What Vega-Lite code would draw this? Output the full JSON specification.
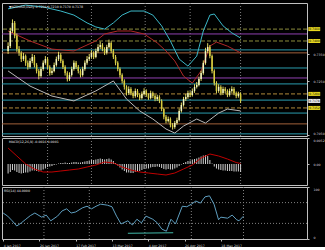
{
"$schema":"https://vega.github.io/schema/vega-lite/v6.json",
"background":"#000000",
"padding":{"left":0,"top":2,"right":0,"bottom":0},
"spacing":0,
"config":{
 "view":{"stroke":"#c0c0c0","strokeWidth":1},
 "axis":{"labelColor":"#d8d8d8","labelFont":"DejaVu Sans","labelFontSize":3.2,"domain":false,"tickColor":"#c0c0c0","tickSize":2,"labelPadding":4,"grid":false,"title":null,"labelOverlap":false},
 "text":{"font":"DejaVu Sans","fontSize":3.2,"color":"#e8e8e8"}
},
"datasets":{
"bars":[
{"i":0,"o":0.7363,"h":0.7395,"l":0.7352,"c":0.7381,"m":-0.0019},
{"i":1,"o":0.7381,"h":0.7449,"l":0.7374,"c":0.7437,"m":-0.0016},
{"i":2,"o":0.7437,"h":0.7480,"l":0.7430,"c":0.7467,"m":-0.0012},
{"i":3,"o":0.7467,"h":0.7474,"l":0.7410,"c":0.7419,"m":-0.0013},
{"i":4,"o":0.7419,"h":0.7428,"l":0.7360,"c":0.7370,"m":-0.0016},
{"i":5,"o":0.7370,"h":0.7381,"l":0.7345,"c":0.7356,"m":-0.0018},
{"i":6,"o":0.7356,"h":0.7362,"l":0.7322,"c":0.7333,"m":-0.0019},
{"i":7,"o":0.7333,"h":0.7356,"l":0.7326,"c":0.7344,"m":-0.0018},
{"i":8,"o":0.7344,"h":0.7350,"l":0.7308,"c":0.7319,"m":-0.0017},
{"i":9,"o":0.7319,"h":0.7328,"l":0.7294,"c":0.7304,"m":-0.0017},
{"i":10,"o":0.7304,"h":0.7336,"l":0.7298,"c":0.7326,"m":-0.0015},
{"i":11,"o":0.7326,"h":0.7352,"l":0.7318,"c":0.7341,"m":-0.0013},
{"i":12,"o":0.7341,"h":0.7348,"l":0.7302,"c":0.7311,"m":-0.0013},
{"i":13,"o":0.7311,"h":0.7318,"l":0.7280,"c":0.7289,"m":-0.0014},
{"i":14,"o":0.7289,"h":0.7296,"l":0.7258,"c":0.7270,"m":-0.0015},
{"i":15,"o":0.7270,"h":0.7305,"l":0.7264,"c":0.7296,"m":-0.0013},
{"i":16,"o":0.7296,"h":0.7328,"l":0.7290,"c":0.7319,"m":-0.0011},
{"i":17,"o":0.7319,"h":0.7344,"l":0.7312,"c":0.7333,"m":-0.0009},
{"i":18,"o":0.7333,"h":0.7340,"l":0.7296,"c":0.7304,"m":-0.0006},
{"i":19,"o":0.7304,"h":0.7310,"l":0.7272,"c":0.7281,"m":-0.0005},
{"i":20,"o":0.7281,"h":0.7300,"l":0.7274,"c":0.7289,"m":-0.0004},
{"i":21,"o":0.7289,"h":0.7320,"l":0.7284,"c":0.7311,"m":-0.0002},
{"i":22,"o":0.7311,"h":0.7342,"l":0.7305,"c":0.7333,"m":-0.0001},
{"i":23,"o":0.7333,"h":0.7360,"l":0.7326,"c":0.7348,"m":0.0001},
{"i":24,"o":0.7348,"h":0.7355,"l":0.7318,"c":0.7326,"m":0.0002},
{"i":25,"o":0.7326,"h":0.7332,"l":0.7296,"c":0.7304,"m":0.0002},
{"i":26,"o":0.7304,"h":0.7310,"l":0.7272,"c":0.7281,"m":0.0003},
{"i":27,"o":0.7281,"h":0.7288,"l":0.7250,"c":0.7259,"m":0.0002},
{"i":28,"o":0.7259,"h":0.7284,"l":0.7252,"c":0.7274,"m":0.0002},
{"i":29,"o":0.7274,"h":0.7305,"l":0.7268,"c":0.7296,"m":0.0003},
{"i":30,"o":0.7296,"h":0.7328,"l":0.7290,"c":0.7319,"m":0.0004},
{"i":31,"o":0.7319,"h":0.7326,"l":0.7296,"c":0.7304,"m":0.0004},
{"i":32,"o":0.7304,"h":0.7311,"l":0.7280,"c":0.7289,"m":0.0003},
{"i":33,"o":0.7289,"h":0.7296,"l":0.7265,"c":0.7274,"m":0.0003},
{"i":34,"o":0.7274,"h":0.7305,"l":0.7268,"c":0.7296,"m":0.0004},
{"i":35,"o":0.7296,"h":0.7328,"l":0.7290,"c":0.7319,"m":0.0005},
{"i":36,"o":0.7319,"h":0.7344,"l":0.7312,"c":0.7333,"m":0.0006},
{"i":37,"o":0.7333,"h":0.7352,"l":0.7326,"c":0.7341,"m":0.0007},
{"i":38,"o":0.7341,"h":0.7366,"l":0.7334,"c":0.7356,"m":0.0008},
{"i":39,"o":0.7356,"h":0.7362,"l":0.7333,"c":0.7341,"m":0.0008},
{"i":40,"o":0.7341,"h":0.7372,"l":0.7336,"c":0.7363,"m":0.0009},
{"i":41,"o":0.7363,"h":0.7388,"l":0.7356,"c":0.7378,"m":0.0010},
{"i":42,"o":0.7378,"h":0.7398,"l":0.7370,"c":0.7385,"m":0.0011},
{"i":43,"o":0.7385,"h":0.7392,"l":0.7362,"c":0.7370,"m":0.0010},
{"i":44,"o":0.7370,"h":0.7377,"l":0.7348,"c":0.7356,"m":0.0009},
{"i":45,"o":0.7356,"h":0.7386,"l":0.7350,"c":0.7378,"m":0.0010},
{"i":46,"o":0.7378,"h":0.7405,"l":0.7372,"c":0.7393,"m":0.0011},
{"i":47,"o":0.7393,"h":0.7399,"l":0.7355,"c":0.7363,"m":0.0009},
{"i":48,"o":0.7363,"h":0.7370,"l":0.7333,"c":0.7341,"m":0.0006},
{"i":49,"o":0.7341,"h":0.7348,"l":0.7310,"c":0.7319,"m":0.0002},
{"i":50,"o":0.7319,"h":0.7325,"l":0.7288,"c":0.7296,"m":-0.0003},
{"i":51,"o":0.7296,"h":0.7302,"l":0.7265,"c":0.7274,"m":-0.0007},
{"i":52,"o":0.7274,"h":0.7280,"l":0.7243,"c":0.7252,"m":-0.0011},
{"i":53,"o":0.7252,"h":0.7258,"l":0.7220,"c":0.7230,"m":-0.0014},
{"i":54,"o":0.7230,"h":0.7236,"l":0.7198,"c":0.7207,"m":-0.0017},
{"i":55,"o":0.7207,"h":0.7232,"l":0.7200,"c":0.7222,"m":-0.0017},
{"i":56,"o":0.7222,"h":0.7229,"l":0.7199,"c":0.7207,"m":-0.0018},
{"i":57,"o":0.7207,"h":0.7214,"l":0.7188,"c":0.7196,"m":-0.0018},
{"i":58,"o":0.7196,"h":0.7224,"l":0.7190,"c":0.7215,"m":-0.0016},
{"i":59,"o":0.7215,"h":0.7222,"l":0.7192,"c":0.7200,"m":-0.0015},
{"i":60,"o":0.7200,"h":0.7207,"l":0.7181,"c":0.7189,"m":-0.0014},
{"i":61,"o":0.7189,"h":0.7213,"l":0.7183,"c":0.7204,"m":-0.0012},
{"i":62,"o":0.7204,"h":0.7225,"l":0.7198,"c":0.7215,"m":-0.0010},
{"i":63,"o":0.7215,"h":0.7221,"l":0.7193,"c":0.7200,"m":-0.0009},
{"i":64,"o":0.7200,"h":0.7206,"l":0.7182,"c":0.7189,"m":-0.0009},
{"i":65,"o":0.7189,"h":0.7216,"l":0.7184,"c":0.7207,"m":-0.0007},
{"i":66,"o":0.7207,"h":0.7213,"l":0.7188,"c":0.7196,"m":-0.0006},
{"i":67,"o":0.7196,"h":0.7202,"l":0.7177,"c":0.7185,"m":-0.0006},
{"i":68,"o":0.7185,"h":0.7201,"l":0.7178,"c":0.7193,"m":-0.0005},
{"i":69,"o":0.7193,"h":0.7199,"l":0.7170,"c":0.7178,"m":-0.0006},
{"i":70,"o":0.7178,"h":0.7184,"l":0.7140,"c":0.7148,"m":-0.0008},
{"i":71,"o":0.7148,"h":0.7154,"l":0.7110,"c":0.7119,"m":-0.0010},
{"i":72,"o":0.7119,"h":0.7126,"l":0.7095,"c":0.7104,"m":-0.0011},
{"i":73,"o":0.7104,"h":0.7120,"l":0.7098,"c":0.7111,"m":-0.0010},
{"i":74,"o":0.7111,"h":0.7117,"l":0.7080,"c":0.7089,"m":-0.0011},
{"i":75,"o":0.7089,"h":0.7096,"l":0.7072,"c":0.7081,"m":-0.0011},
{"i":76,"o":0.7081,"h":0.7104,"l":0.7075,"c":0.7096,"m":-0.0009},
{"i":77,"o":0.7096,"h":0.7116,"l":0.7090,"c":0.7107,"m":-0.0007},
{"i":78,"o":0.7107,"h":0.7150,"l":0.7102,"c":0.7141,"m":-0.0004},
{"i":79,"o":0.7141,"h":0.7172,"l":0.7135,"c":0.7163,"m":-0.0001},
{"i":80,"o":0.7163,"h":0.7193,"l":0.7157,"c":0.7185,"m":0.0002},
{"i":81,"o":0.7185,"h":0.7204,"l":0.7178,"c":0.7193,"m":0.0004},
{"i":82,"o":0.7193,"h":0.7216,"l":0.7186,"c":0.7207,"m":0.0006},
{"i":83,"o":0.7207,"h":0.7214,"l":0.7192,"c":0.7200,"m":0.0007},
{"i":84,"o":0.7200,"h":0.7224,"l":0.7194,"c":0.7215,"m":0.0009},
{"i":85,"o":0.7215,"h":0.7240,"l":0.7208,"c":0.7230,"m":0.0010},
{"i":86,"o":0.7230,"h":0.7248,"l":0.7224,"c":0.7237,"m":0.0011},
{"i":87,"o":0.7237,"h":0.7268,"l":0.7232,"c":0.7259,"m":0.0013},
{"i":88,"o":0.7259,"h":0.7290,"l":0.7252,"c":0.7281,"m":0.0015},
{"i":89,"o":0.7281,"h":0.7328,"l":0.7275,"c":0.7319,"m":0.0017},
{"i":90,"o":0.7319,"h":0.7375,"l":0.7312,"c":0.7363,"m":0.0018},
{"i":91,"o":0.7363,"h":0.7392,"l":0.7355,"c":0.7378,"m":0.0016},
{"i":92,"o":0.7378,"h":0.7385,"l":0.7336,"c":0.7344,"m":0.0008},
{"i":93,"o":0.7344,"h":0.7350,"l":0.7280,"c":0.7289,"m":0.0001},
{"i":94,"o":0.7289,"h":0.7295,"l":0.7235,"c":0.7244,"m":-0.0005},
{"i":95,"o":0.7244,"h":0.7251,"l":0.7206,"c":0.7215,"m":-0.0009},
{"i":96,"o":0.7215,"h":0.7240,"l":0.7208,"c":0.7230,"m":-0.0011},
{"i":97,"o":0.7230,"h":0.7236,"l":0.7199,"c":0.7207,"m":-0.0012},
{"i":98,"o":0.7207,"h":0.7231,"l":0.7200,"c":0.7222,"m":-0.0013},
{"i":99,"o":0.7222,"h":0.7229,"l":0.7206,"c":0.7215,"m":-0.0013},
{"i":100,"o":0.7215,"h":0.7221,"l":0.7192,"c":0.7200,"m":-0.0014},
{"i":101,"o":0.7200,"h":0.7224,"l":0.7194,"c":0.7215,"m":-0.0014},
{"i":102,"o":0.7215,"h":0.7232,"l":0.7208,"c":0.7222,"m":-0.0014},
{"i":103,"o":0.7222,"h":0.7229,"l":0.7199,"c":0.7207,"m":-0.0015},
{"i":104,"o":0.7207,"h":0.7213,"l":0.7188,"c":0.7196,"m":-0.0015},
{"i":105,"o":0.7196,"h":0.7212,"l":0.7190,"c":0.7204,"m":-0.0015},
{"i":106,"o":0.7204,"h":0.7210,"l":0.7170,"c":0.7178,"m":-0.0016}
],
"vgrid":[{"i":18},{"i":38},{"i":62.5},{"i":83},{"i":106}],
"levels":[
{"p":0.7444,"k":"dashO"},{"p":0.7426,"k":"purple"},{"p":0.7400,"k":"dashO"},{"p":0.7367,"k":"cyan"},{"p":0.7356,"k":"brown"},
{"p":0.7300,"k":"cyan"},{"p":0.7263,"k":"purple"},{"p":0.7241,"k":"cyan"},{"p":0.7204,"k":"dashOr"},{"p":0.7181,"k":"cyan"},
{"p":0.7152,"k":"dashOr"},{"p":0.7133,"k":"cyan"},{"p":0.7093,"k":"brown"},{"p":0.7056,"k":"cyan"}
],
"tags":[
{"p":0.7444,"k":"y","t":"0.7444"},{"p":0.7400,"k":"y","t":"0.7400"},{"p":0.7204,"k":"y","t":"0.7204"},{"p":0.7178,"k":"w","t":"0.7178"},{"p":0.7152,"k":"y","t":"0.7152"}
],
"bands":[
{"i":0,"v":0.7519,"k":"up"},{"i":8,"v":0.7533,"k":"up"},{"i":16,"v":0.7526,"k":"up"},{"i":24,"v":0.7511,"k":"up"},{"i":30,"v":0.7496,"k":"up"},{"i":36,"v":0.7467,"k":"up"},{"i":40,"v":0.7452,"k":"up"},{"i":44,"v":0.7444,"k":"up"},{"i":48,"v":0.7467,"k":"up"},{"i":52,"v":0.7496,"k":"up"},{"i":56,"v":0.7511,"k":"up"},{"i":62,"v":0.7511,"k":"up"},{"i":66,"v":0.7496,"k":"up"},{"i":70,"v":0.7456,"k":"up"},{"i":74,"v":0.7400,"k":"up"},{"i":78,"v":0.7333,"k":"up"},{"i":82,"v":0.7307,"k":"up"},{"i":86,"v":0.7344,"k":"up"},{"i":89,"v":0.7437,"k":"up"},{"i":92,"v":0.7496,"k":"up"},{"i":94,"v":0.7500,"k":"up"},{"i":98,"v":0.7456,"k":"up"},{"i":102,"v":0.7430,"k":"up"},{"i":106,"v":0.7411,"k":"up"},
{"i":0,"v":0.7437,"k":"mid"},{"i":10,"v":0.7400,"k":"mid"},{"i":20,"v":0.7370,"k":"mid"},{"i":30,"v":0.7363,"k":"mid"},{"i":40,"v":0.7400,"k":"mid"},{"i":44,"v":0.7426,"k":"mid"},{"i":50,"v":0.7437,"k":"mid"},{"i":56,"v":0.7437,"k":"mid"},{"i":62,"v":0.7426,"k":"mid"},{"i":68,"v":0.7393,"k":"mid"},{"i":72,"v":0.7363,"k":"mid"},{"i":76,"v":0.7326,"k":"mid"},{"i":80,"v":0.7270,"k":"mid"},{"i":84,"v":0.7244,"k":"mid"},{"i":88,"v":0.7289,"k":"mid"},{"i":92,"v":0.7381,"k":"mid"},{"i":95,"v":0.7396,"k":"mid"},{"i":100,"v":0.7381,"k":"mid"},{"i":106,"v":0.7356,"k":"mid"},
{"i":0,"v":0.7289,"k":"lo"},{"i":10,"v":0.7233,"k":"lo"},{"i":20,"v":0.7196,"k":"lo"},{"i":30,"v":0.7178,"k":"lo"},{"i":40,"v":0.7215,"k":"lo"},{"i":48,"v":0.7252,"k":"lo"},{"i":54,"v":0.7185,"k":"lo"},{"i":60,"v":0.7141,"k":"lo"},{"i":66,"v":0.7111,"k":"lo"},{"i":72,"v":0.7074,"k":"lo"},{"i":76,"v":0.7059,"k":"lo"},{"i":80,"v":0.7085,"k":"lo"},{"i":86,"v":0.7111,"k":"lo"},{"i":90,"v":0.7096,"k":"lo"},{"i":96,"v":0.7133,"k":"lo"},{"i":100,"v":0.7148,"k":"lo"},{"i":106,"v":0.7141,"k":"lo"}
],
"sig":[
{"i":0,"s":0.0032},{"i":4,"s":0.0016},{"i":8,"s":0.0},{"i":12,"s":-0.001},{"i":16,"s":-0.0016},{"i":20,"s":-0.0016},{"i":24,"s":-0.0014},{"i":28,"s":-0.0012},{"i":32,"s":-0.001},{"i":36,"s":-0.0006},{"i":40,"s":-0.0002},{"i":44,"s":0.0004},{"i":48,"s":0.0002},{"i":52,"s":-0.0006},{"i":56,"s":-0.0012},{"i":60,"s":-0.0016},{"i":64,"s":-0.0018},{"i":68,"s":-0.002},{"i":72,"s":-0.0022},{"i":76,"s":-0.0018},{"i":80,"s":-0.001},{"i":84,"s":-0.0002},{"i":88,"s":0.0012},{"i":92,"s":0.002},{"i":96,"s":0.0016},{"i":100,"s":0.001},{"i":104,"s":0.0003},{"i":106,"s":0.0001}
],
"rsi":[
{"i":0,"r":50},{"i":2,"r":44},{"i":4,"r":35},{"i":6,"r":25},{"i":8,"r":31},{"i":10,"r":38},{"i":12,"r":45},{"i":14,"r":50},{"i":17,"r":42},{"i":19,"r":46},{"i":21,"r":35},{"i":24,"r":44},{"i":26,"r":54},{"i":28,"r":58},{"i":30,"r":50},{"i":32,"r":52},{"i":35,"r":60},{"i":37,"r":63},{"i":39,"r":58},{"i":41,"r":63},{"i":43,"r":67},{"i":46,"r":65},{"i":48,"r":62},{"i":50,"r":44},{"i":52,"r":29},{"i":55,"r":35},{"i":57,"r":27},{"i":59,"r":38},{"i":61,"r":31},{"i":63,"r":44},{"i":66,"r":38},{"i":68,"r":31},{"i":70,"r":19},{"i":72,"r":15},{"i":74,"r":38},{"i":76,"r":29},{"i":79,"r":63},{"i":81,"r":62},{"i":83,"r":67},{"i":85,"r":73},{"i":87,"r":69},{"i":89,"r":81},{"i":91,"r":83},{"i":93,"r":67},{"i":95,"r":37},{"i":96,"r":42},{"i":99,"r":40},{"i":101,"r":46},{"i":103,"r":37},{"i":104,"r":35},{"i":106,"r":44}
],
"rsilev":[{"v":70},{"v":30}],
"rsitl":[{"i1":55,"i2":75,"v1":11,"v2":12}]
},
"vconcat":[
{"width":305,"height":133,
 "layer":[
  {"data":{"name":"vgrid"},"mark":{"type":"rule","color":"#808080","strokeDash":[1,2]},
   "encoding":{"x":{"field":"i","type":"quantitative","scale":{"domain":[-0.5,134],"nice":false,"zero":false},"axis":null}}},
  {"data":{"name":"levels"},"mark":{"type":"rule","strokeWidth":1},
   "encoding":{
    "y":{"field":"p","type":"quantitative","scale":{"domain":[0.70481,0.75407],"nice":false,"zero":false},"axis":{"orient":"right","values":[0.75,0.735,0.73,0.725,0.71,0.705],"format":".4f","labelFlush":true}},
    "color":{"field":"k","type":"nominal","scale":{"domain":["dashO","purple","cyan","brown","dashOr","up","mid","lo"],"range":["#8c8c3c","#9040b0","#2a9cae","#a0603a","#b08a3a","#3cb8c8","#b02828","#b8b8b8"]},"legend":null},
    "strokeDash":{"field":"k","type":"nominal","scale":{"domain":["dashO","purple","cyan","brown","dashOr"],"range":[[4,2],[1,0],[1,0],[1,0],[4,2]]},"legend":null}}},
  {"data":{"name":"bands"},"mark":{"type":"line","strokeWidth":1},
   "encoding":{
    "x":{"field":"i","type":"quantitative","scale":{"domain":[-0.5,134],"nice":false,"zero":false},"axis":null},
    "y":{"field":"v","type":"quantitative"},
    "color":{"field":"k","type":"nominal","scale":{"domain":["dashO","purple","cyan","brown","dashOr","up","mid","lo"],"range":["#8c8c3c","#9040b0","#2a9cae","#a0603a","#b08a3a","#3cb8c8","#b02828","#b8b8b8"]},"legend":null}}},
  {"data":{"name":"bars"},"mark":{"type":"rule","color":"#e0d860","strokeWidth":1},
   "encoding":{
    "x":{"field":"i","type":"quantitative","scale":{"domain":[-0.5,134],"nice":false,"zero":false},"axis":null},
    "y":{"field":"l","type":"quantitative"},"y2":{"field":"h"}}},
  {"data":{"name":"bars"},"mark":{"type":"bar","size":1.5},
   "encoding":{
    "x":{"field":"i","type":"quantitative","scale":{"domain":[-0.5,134],"nice":false,"zero":false},"axis":null},
    "y":{"field":"o","type":"quantitative"},"y2":{"field":"c"},
    "color":{"condition":{"test":"datum.c >= datum.o","value":"#f4f4c0"},"value":"#d8cc3c"}}},
  {"data":{"name":"tags"},"mark":{"type":"rect","height":4,"clip":false},
   "encoding":{
    "x":{"datum":136.9,"type":"quantitative"},"x2":{"datum":142.3},
    "y":{"field":"p","type":"quantitative"},
    "fill":{"field":"k","type":"nominal","scale":{"domain":["y","w"],"range":["#e8d820","#f0f0f0"]},"legend":null}}},
  {"data":{"name":"tags"},"mark":{"type":"text","align":"left","baseline":"middle","color":"#000000","dx":0.8,"fontSize":3,"clip":false},
   "encoding":{
    "x":{"datum":136.9,"type":"quantitative"},
    "y":{"field":"p","type":"quantitative"},
    "text":{"field":"t"}}},
  {"data":{"values":[{"t":"▼NZDUSD,Daily  0.7204 0.7210 0.7170 0.7178"}]},"mark":{"type":"text","align":"left","baseline":"top","dx":2,"dy":2},
   "encoding":{"x":{"datum":-0.5,"type":"quantitative"},"y":{"datum":0.75407,"type":"quantitative"},"text":{"field":"t"}}}
 ]},
{"width":305,"height":47,
 "layer":[
  {"data":{"name":"vgrid"},"mark":{"type":"rule","color":"#808080","strokeDash":[1,2]},
   "encoding":{"x":{"field":"i","type":"quantitative","scale":{"domain":[-0.5,134],"nice":false,"zero":false},"axis":null}}},
  {"data":{"name":"bars"},"mark":{"type":"bar","size":1,"color":"#d0d0d0"},
   "encoding":{
    "x":{"field":"i","type":"quantitative","scale":{"domain":[-0.5,134],"nice":false,"zero":false},"axis":null},
    "y":{"field":"m","type":"quantitative","scale":{"domain":[-0.0042,0.0052],"nice":false,"zero":false},"axis":{"orient":"right","values":[0.0052,0],"labelFlush":true,"labelExpr":"datum.value == 0 ? '0.00' : format(datum.value, '.4f')"}},
    "y2":{"datum":0}}},
  {"data":{"name":"sig"},"mark":{"type":"line","color":"#c00000","strokeWidth":1},
   "encoding":{
    "x":{"field":"i","type":"quantitative","scale":{"domain":[-0.5,134],"nice":false,"zero":false},"axis":null},
    "y":{"field":"s","type":"quantitative"}}},
  {"data":{"values":[{"t":"MACD(12,26,9) -0.0016 0.0001"}]},"mark":{"type":"text","align":"left","baseline":"top","dx":2,"dy":2},
   "encoding":{"x":{"datum":-0.5,"type":"quantitative"},"y":{"datum":0.0052,"type":"quantitative"},"text":{"field":"t"}}}
 ]},
{"width":305,"height":52,
 "layer":[
  {"data":{"name":"vgrid"},"mark":{"type":"rule","color":"#808080","strokeDash":[1,2]},
   "encoding":{"x":{"field":"i","type":"quantitative","scale":{"domain":[-0.5,134],"nice":false,"zero":false},
     "axis":{"orient":"bottom","values":[0,8,16,24,32,40,48,56,64,72,80,88,96,104],"labelAlign":"left","labelPadding":2,"labelExpr":"['4 Jan 2017','16 Jan 2017','26 Jan 2017','7 Feb 2017','17 Feb 2017','1 Mar 2017','13 Mar 2017','23 Mar 2017','4 Apr 2017','14 Apr 2017','26 Apr 2017','8 May 2017','18 May 2017','30 May 2017'][datum.value/8]"}}}},
  {"data":{"name":"rsilev"},"mark":{"type":"rule","color":"#808080","strokeDash":[1,2]},
   "encoding":{"y":{"field":"v","type":"quantitative","scale":{"domain":[0,100],"nice":false},"axis":{"orient":"right","values":[100,70,30,0],"labelFlush":true}}}},
  {"data":{"name":"rsitl"},"mark":{"type":"rule","color":"#40b8a8","strokeWidth":1},
   "encoding":{
    "x":{"field":"i1","type":"quantitative"},"x2":{"field":"i2"},
    "y":{"field":"v1","type":"quantitative"},"y2":{"field":"v2"}}},
  {"data":{"name":"rsi"},"mark":{"type":"line","color":"#5f9fc0","strokeWidth":1},
   "encoding":{
    "x":{"field":"i","type":"quantitative"},
    "y":{"field":"r","type":"quantitative"}}},
  {"data":{"values":[{"t":"RSI(14) 44.0000"}]},"mark":{"type":"text","align":"left","baseline":"top","dx":2,"dy":2},
   "encoding":{"x":{"datum":-0.5,"type":"quantitative"},"y":{"datum":100,"type":"quantitative"},"text":{"field":"t"}}}
 ]}
]
}
